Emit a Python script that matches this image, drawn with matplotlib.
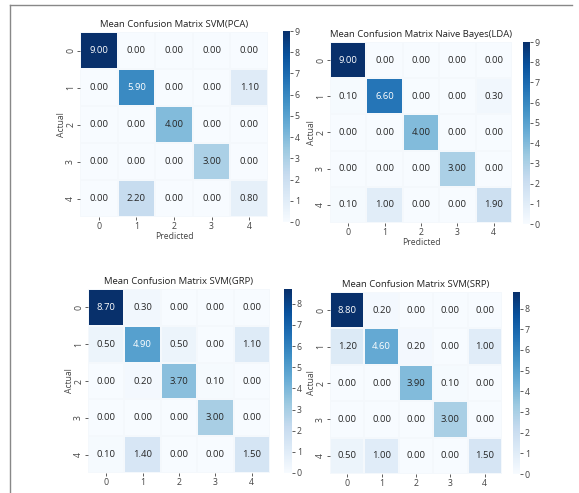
import matplotlib

matplotlib.use("Agg")
import matplotlib.pyplot as plt
import numpy as np
import seaborn as sns
from matplotlib.lines import Line2D

plt.rcParams["font.family"] = ["Open Sans", "DejaVu Sans"]

W, H = 579, 493

labels = [0, 1, 2, 3, 4]

cm_svm_pca = [
    [9.0, 0.0, 0.0, 0.0, 0.0],
    [0.0, 5.9, 0.0, 0.0, 1.1],
    [0.0, 0.0, 4.0, 0.0, 0.0],
    [0.0, 0.0, 0.0, 3.0, 0.0],
    [0.0, 2.2, 0.0, 0.0, 0.8],
]
cm_nb_lda = [
    [9.0, 0.0, 0.0, 0.0, 0.0],
    [0.1, 6.6, 0.0, 0.0, 0.3],
    [0.0, 0.0, 4.0, 0.0, 0.0],
    [0.0, 0.0, 0.0, 3.0, 0.0],
    [0.1, 1.0, 0.0, 0.0, 1.9],
]
cm_svm_grp = [
    [8.7, 0.3, 0.0, 0.0, 0.0],
    [0.5, 4.9, 0.5, 0.0, 1.1],
    [0.0, 0.2, 3.7, 0.1, 0.0],
    [0.0, 0.0, 0.0, 3.0, 0.0],
    [0.1, 1.4, 0.0, 0.0, 1.5],
]
cm_svm_srp = [
    [8.8, 0.2, 0.0, 0.0, 0.0],
    [1.2, 4.6, 0.2, 0.0, 1.0],
    [0.0, 0.0, 3.9, 0.1, 0.0],
    [0.0, 0.0, 0.0, 3.0, 0.0],
    [0.5, 1.0, 0.0, 0.0, 1.5],
]

titles = [
    "Mean Confusion Matrix SVM(PCA)",
    "Mean Confusion Matrix Naive Bayes(LDA)",
    "Mean Confusion Matrix SVM(GRP)",
    "Mean Confusion Matrix SVM(SRP)",
]


def px_rect(x0, y0, x1, y1):
    # pixel box (top-left origin) -> figure fraction rect
    return [x0 / W, 1 - y1 / H, (x1 - x0) / W, (y1 - y0) / H]


TXT = "#444444"

fig = plt.figure(figsize=(W / 100, H / 100), dpi=100)

# (heatmap box, colorbar box, show "Predicted" label)
panels = [
    (cm_svm_pca, px_rect(80, 32, 268, 217), px_rect(283, 31, 290, 222), True),
    (cm_nb_lda, px_rect(330, 42, 512, 223), px_rect(523, 42, 530, 224), True),
    (cm_svm_grp, px_rect(88, 289, 270, 473), px_rect(284, 289, 292, 473), False),
    (cm_svm_srp, px_rect(330, 292, 502, 474), px_rect(513, 292, 520, 474), False),
]

for (cm, rect, cb_rect, show_xlabel), title in zip(panels, titles):
    ax = fig.add_axes(rect)
    cax = fig.add_axes(cb_rect)
    sns.heatmap(
        np.array(cm), annot=True, fmt=".2f", cmap="Blues", ax=ax, cbar_ax=cax,
        xticklabels=labels, yticklabels=labels, annot_kws={"fontsize": 6.8},
        linewidths=0.3, linecolor="#f4f8fc",
    )
    ax.set_title(title, fontsize=6.8, color="#222222", pad=3.5)
    ax.set_ylabel("Actual", fontsize=6.2, color=TXT, labelpad=0)
    if show_xlabel:
        ax.set_xlabel("Predicted", fontsize=6.2, color=TXT, labelpad=1)
    ax.tick_params(labelsize=6.3, colors=TXT, length=2, width=0.6, pad=1.5)
    plt.setp(ax.get_yticklabels(), rotation=90, va="center")
    cax.tick_params(labelsize=6.3, colors=TXT, length=2, width=0.6, pad=1.5)

# screenshot frame
fig.add_artist(Line2D([10 / W, 10 / W], [1 - 5 / H, 0], color="#888888", lw=1.0))
fig.add_artist(Line2D([10 / W, 572 / W], [1 - 5 / H, 1 - 5 / H], color="#888888", lw=1.0))

fig.savefig("out.png", dpi=100)
